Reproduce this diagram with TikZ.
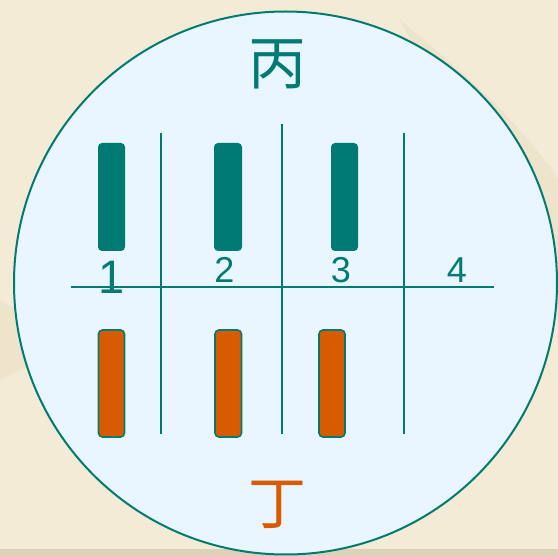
\documentclass[tikz,border=0pt]{standalone}
\usepackage{fontspec}
\setmainfont{Liberation Sans}
\newfontfamily\cjk{Noto Sans CJK SC}
\definecolor{paper}{HTML}{F4EBD6}
\definecolor{paperdark}{HTML}{EEE3CB}
\definecolor{paperedge}{HTML}{DDD2B8}
\definecolor{dish}{HTML}{EAF6FF}
\definecolor{teal}{HTML}{007B74}
\definecolor{rust}{HTML}{D95B00}
\tikzset{
  grid line/.style={draw=teal, line width=2pt},
  topbar/.style={fill=teal, rounded corners=4pt},
  lowbar/.style={fill=rust, draw=teal, line width=1.6pt, rounded corners=4pt},
  lane/.style={text=teal, font=\fontsize{36}{36}\selectfont, anchor=base},
}
\begin{document}
\begin{tikzpicture}[x=1pt, y=-1pt]
  % paper background
  \fill[paper] (0,0) rectangle (558,556);
  \fill[paperdark] (400,20) .. controls (460,70) and (520,120) .. (558,180) -- (558,320) .. controls (520,240) and (470,150) .. (400,20);
  \fill[paperdark] (0,300) .. controls (30,320) and (60,330) .. (100,330) -- (0,380) -- cycle;
  \fill[paperedge] (0,549) rectangle (558,556);
  \useasboundingbox (0,0) rectangle (558,556);

  % the dish
  \node[circle, draw=teal, fill=dish, line width=2pt, minimum size=543pt, inner sep=0pt] (dish) at (285.5,283) {};

  % lane grid
  \coordinate (hl) at (71,287.5);
  \coordinate (hr) at (494,287.5);
  \draw[grid line] (hl) -- (hr);
  \coordinate (v1t) at (160.5,133); \coordinate (v1b) at (160.5,434);
  \coordinate (v2t) at (282,124.5); \coordinate (v2b) at (282,434);
  \coordinate (v3t) at (404,133);   \coordinate (v3b) at (404,434);
  \draw[grid line] (v1t) -- (v1b);
  \draw[grid line] (v2t) -- (v2b);
  \draw[grid line] (v3t) -- (v3b);

  % bands above the line
  \path[topbar] (98,143) rectangle (125,251);
  \path[topbar] (214,143) rectangle (242,251);
  \path[topbar] (331,143) rectangle (358,251);

  % bands below the line
  \path[lowbar] (98.5,330) rectangle (124.5,437);
  \path[lowbar] (215,330) rectangle (241.5,437);
  \path[lowbar] (319,330) rectangle (345,437);

  % lane numbers
  \node[lane, font=\fontsize{47}{47}\selectfont] (n1) at (112,294) {1};
  \node[lane] (n2) at (224.5,283) {2};
  \node[lane] (n3) at (341,283) {3};
  \node[lane] (n4) at (457,283) {4};

  % labels
  \node[text=teal, font=\cjk\fontsize{58}{58}\selectfont, inner sep=0pt] (bing) at (277,64) {丙};
  \node[text=rust, font=\cjk\fontsize{58}{58}\selectfont, inner sep=0pt] (ding) at (277,505) {丁};
\end{tikzpicture}
\end{document}
